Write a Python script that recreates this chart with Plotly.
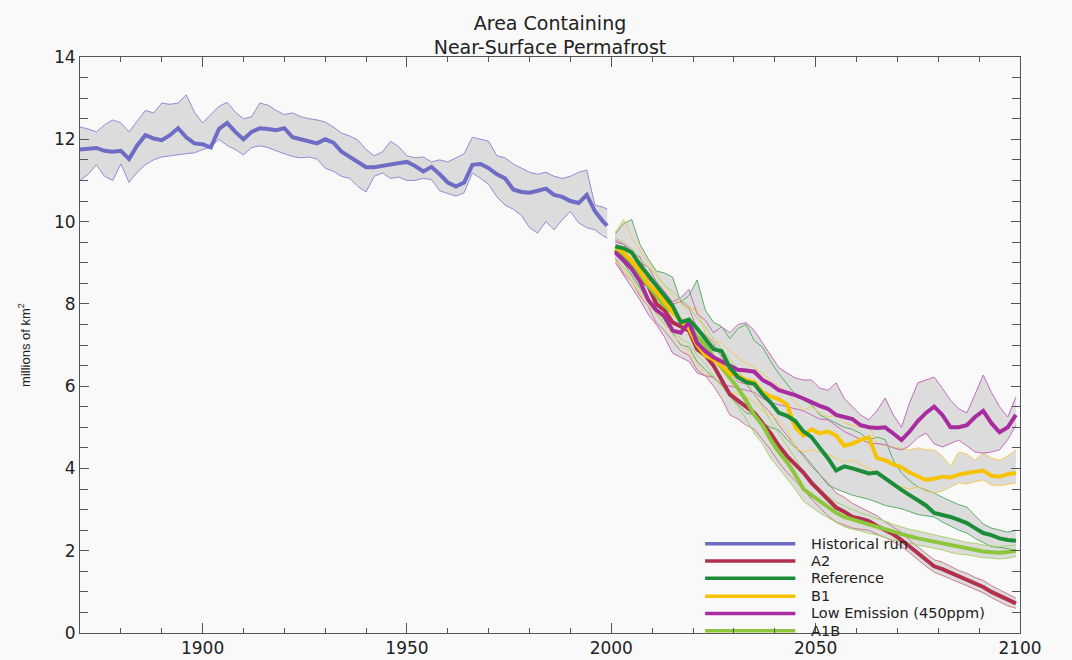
import plotly.graph_objects as go

# historical run, two-year steps
HIST_YEARS = list(range(1870, 2000, 2)) + [1999]
HIST_MEAN = [11.75, 11.76, 11.79, 11.72, 11.70, 11.72, 11.52, 11.85, 12.10, 12.02,
             11.98, 12.10, 12.27, 12.05, 11.90, 11.88, 11.80, 12.25, 12.40, 12.18,
             12.00, 12.18, 12.27, 12.25, 12.22, 12.27, 12.05, 12.00, 11.95, 11.90,
             12.00, 11.92, 11.70, 11.57, 11.45, 11.32, 11.32, 11.36, 11.38, 11.42,
             11.45, 11.35, 11.22, 11.33, 11.15, 10.95, 10.85, 10.95, 11.38, 11.40,
             11.30, 11.15, 11.05, 10.78, 10.72, 10.70, 10.75, 10.80, 10.65, 10.60,
             10.50, 10.45, 10.65, 10.25, 10.00, 9.90]
HIST_HIGH = [12.30, 12.25, 12.18, 12.35, 12.47, 12.40, 12.18, 12.45, 12.70, 12.64,
             12.88, 12.85, 12.88, 13.08, 12.66, 12.40, 12.60, 12.80, 12.90, 12.66,
             12.50, 12.55, 12.88, 12.83, 12.70, 12.60, 12.64, 12.55, 12.50, 12.47,
             12.42, 12.30, 12.15, 12.08, 11.98, 11.75, 11.60, 11.69, 11.95, 11.82,
             11.60, 11.55, 11.57, 11.45, 11.50, 11.45, 11.55, 11.65, 12.05, 12.00,
             11.95, 11.60, 11.55, 11.40, 11.30, 11.20, 11.15, 11.20, 11.10, 11.05,
             11.10, 11.20, 11.25, 10.40, 10.35, 10.30]
HIST_LOW = [11.00, 11.15, 11.38, 11.10, 11.00, 11.40, 10.95, 11.20, 11.38, 11.50,
            11.57, 11.60, 11.62, 11.65, 11.67, 11.75, 11.81, 12.00, 11.85, 11.75,
            11.62, 11.80, 11.84, 11.80, 11.72, 11.65, 11.58, 11.55, 11.57, 11.52,
            11.30, 11.22, 11.10, 11.05, 10.85, 10.72, 11.10, 11.18, 11.05, 11.08,
            11.00, 11.00, 11.05, 11.02, 10.75, 10.68, 10.62, 10.70, 11.18, 11.05,
            10.90, 10.60, 10.40, 10.30, 10.15, 9.85, 9.72, 10.00, 9.80, 10.04,
            10.25, 9.97, 9.85, 9.80, 9.65, 9.60]

# scenario runs, two-year steps
SCEN_YEARS = list(range(2001, 2101, 2))

A2_MEAN = [9.30, 9.10, 8.95, 8.60, 8.45, 8.00, 7.85, 7.55, 7.45, 7.35,
           6.90, 6.75, 6.50, 6.15, 5.80, 5.65, 5.50, 5.35, 5.10, 4.85,
           4.55, 4.30, 4.10, 3.90, 3.65, 3.45, 3.25, 3.05, 2.95, 2.82,
           2.78, 2.72, 2.60, 2.50, 2.40, 2.26, 2.10, 1.94, 1.78, 1.62,
           1.55, 1.46, 1.38, 1.29, 1.20, 1.12, 1.00, 0.90, 0.80, 0.72]
A2_HIGH = [9.55, 9.45, 9.30, 9.00, 8.90, 8.55, 8.30, 8.00, 8.05, 7.90,
           7.40, 7.25, 7.05, 6.70, 6.35, 6.10, 6.05, 5.80, 5.55, 5.35,
           5.05, 4.80, 4.55, 4.30, 4.05, 3.85, 3.65, 3.40, 3.30, 3.15,
           3.05, 2.95, 2.85, 2.70, 2.58, 2.45, 2.25, 2.10, 1.95, 1.78,
           1.72, 1.62, 1.52, 1.45, 1.35, 1.28, 1.15, 1.05, 0.95, 0.85]
A2_LOW = [9.10, 8.75, 8.55, 8.20, 7.95, 7.55, 7.35, 7.10, 6.85, 6.75,
          6.40, 6.25, 6.00, 5.70, 5.30, 5.20, 5.05, 4.95, 4.70, 4.45,
          4.15, 3.90, 3.70, 3.50, 3.25, 3.05, 2.85, 2.70, 2.62, 2.55,
          2.52, 2.50, 2.40, 2.32, 2.22, 2.10, 1.95, 1.78, 1.62, 1.48,
          1.40, 1.32, 1.24, 1.15, 1.06, 0.98, 0.86, 0.76, 0.66, 0.60]

REF_MEAN = [9.40, 9.35, 9.25, 8.95, 8.70, 8.45, 8.20, 7.95, 7.55, 7.62,
            7.40, 7.15, 6.90, 6.85, 6.45, 6.22, 6.10, 6.05, 5.80, 5.60,
            5.35, 5.28, 5.15, 4.90, 4.76, 4.50, 4.25, 3.95, 4.05, 4.00,
            3.95, 3.88, 3.90, 3.75, 3.60, 3.48, 3.35, 3.23, 3.10, 2.92,
            2.88, 2.82, 2.75, 2.67, 2.55, 2.43, 2.38, 2.30, 2.26, 2.24]
REF_HIGH = [9.70, 9.95, 10.05, 9.45, 9.10, 8.80, 8.75, 8.65, 8.05, 8.20,
            8.58, 7.85, 7.55, 7.45, 7.15, 7.40, 7.50, 7.10, 6.95, 6.60,
            6.30, 6.05, 5.80, 5.66, 5.55, 5.30, 5.20, 5.10, 5.00, 4.95,
            4.85, 4.70, 4.76, 4.70, 4.20, 3.89, 3.70, 3.55, 3.48, 3.40,
            3.30, 3.20, 3.12, 3.06, 2.85, 2.65, 2.55, 2.50, 2.45, 2.50]
REF_LOW = [9.20, 9.00, 8.70, 8.40, 8.10, 7.90, 7.60, 7.30, 7.00, 6.95,
           6.60, 6.40, 6.20, 6.05, 5.75, 5.55, 5.35, 5.30, 5.10, 5.00,
           4.93, 4.70, 4.50, 4.35, 4.10, 3.85, 3.60, 3.50, 3.42, 3.35,
           3.30, 3.25, 3.18, 3.10, 3.06, 3.02, 2.95, 2.88, 2.85, 2.82,
           2.70, 2.60, 2.50, 2.43, 2.30, 2.20, 2.10, 2.08, 2.05, 2.00]

B1_MEAN = [9.40, 9.25, 9.05, 8.80, 8.50, 8.30, 8.05, 7.80, 7.60, 7.40,
           7.00, 6.75, 6.65, 6.50, 6.30, 6.25, 6.15, 6.10, 5.85, 5.75,
           5.68, 5.55, 5.00, 4.80, 4.95, 4.85, 4.90, 4.80, 4.55, 4.60,
           4.70, 4.75, 4.25, 4.20, 4.10, 4.03, 3.90, 3.80, 3.72, 3.75,
           3.80, 3.78, 3.85, 3.89, 3.92, 3.95, 3.82, 3.80, 3.86, 3.89]
B1_HIGH = [9.75, 10.05, 9.60, 9.30, 9.00, 8.75, 8.45, 8.20, 8.00, 7.85,
           7.90, 7.30, 7.10, 7.05, 6.85, 6.70, 6.55, 6.45, 6.30, 6.15,
           6.00, 5.85, 5.60, 5.42, 5.50, 5.35, 5.25, 5.30, 5.10, 5.05,
           5.00, 5.05, 4.62, 4.55, 4.52, 4.48, 4.45, 4.50, 4.45, 4.45,
           4.30, 4.05, 4.40, 4.35, 4.20, 4.38, 4.25, 4.20, 4.30, 4.45]
B1_LOW = [9.05, 8.85, 8.55, 8.25, 7.95, 7.80, 7.50, 7.25, 7.05, 6.85,
          6.55, 6.30, 6.20, 6.00, 5.85, 5.80, 5.75, 5.60, 5.40, 5.30,
          5.15, 4.95, 4.50, 4.40, 4.45, 4.40, 4.35, 4.25, 4.15, 4.20,
          4.10, 4.00, 3.89, 3.80, 3.60, 3.55, 3.50, 3.55, 3.45, 3.40,
          3.45, 3.55, 3.65, 3.62, 3.68, 3.72, 3.60, 3.58, 3.62, 3.65]

LOW_MEAN = [9.25, 9.05, 8.85, 8.55, 8.10, 7.85, 7.70, 7.35, 7.30, 7.55,
            7.05, 6.85, 6.70, 6.60, 6.50, 6.40, 6.38, 6.35, 6.15, 6.05,
            5.90, 5.85, 5.78, 5.70, 5.60, 5.52, 5.45, 5.30, 5.25, 5.20,
            5.05, 5.00, 4.98, 5.00, 4.85, 4.69, 4.90, 5.15, 5.35, 5.50,
            5.30, 5.00, 5.00, 5.05, 5.25, 5.40, 5.10, 4.88, 5.00, 5.30]
LOW_HIGH = [9.50, 9.45, 9.20, 9.15, 8.60, 8.40, 8.30, 8.05, 8.15, 8.35,
            7.75, 7.60, 7.30, 7.44, 7.30, 7.50, 7.54, 7.35, 7.05, 6.75,
            6.45, 6.32, 6.20, 6.15, 6.15, 5.95, 5.90, 6.08, 5.70, 5.50,
            5.30, 5.18, 5.40, 5.71, 5.30, 5.00, 5.60, 6.08, 6.15, 6.22,
            5.95, 5.66, 5.45, 5.35, 5.80, 6.27, 5.85, 5.50, 5.25, 5.74]
LOW_LOW = [9.00, 8.70, 8.40, 8.10, 7.75, 7.50, 7.20, 6.80, 6.70, 6.60,
           6.32, 6.25, 6.22, 6.05, 6.00, 5.95, 5.90, 5.85, 5.70, 5.60,
           5.55, 5.50, 5.45, 5.40, 5.30, 5.20, 5.18, 5.05, 4.90, 4.80,
           4.70, 4.62, 4.60, 4.58, 4.50, 4.45, 4.55, 4.75, 4.86, 4.60,
           4.52, 4.60, 4.69, 4.55, 4.40, 4.37, 4.40, 4.45, 4.70, 5.05]

A1B_MEAN = [9.35, 9.20, 9.00, 8.70, 8.45, 8.20, 7.95, 7.80, 7.60, 7.50,
            7.20, 7.00, 6.70, 6.45, 6.20, 5.95, 5.65, 5.30, 5.05, 4.70,
            4.40, 4.15, 3.85, 3.50, 3.35, 3.20, 3.05, 2.92, 2.82, 2.75,
            2.70, 2.64, 2.58, 2.52, 2.45, 2.40, 2.35, 2.30, 2.26, 2.22,
            2.18, 2.12, 2.08, 2.05, 2.02, 1.98, 1.96, 1.95, 1.97, 2.00]
A1B_HIGH = [9.60, 9.50, 9.35, 9.10, 8.90, 8.70, 8.45, 8.30, 8.10, 7.95,
            7.65, 7.45, 7.15, 6.90, 6.65, 6.40, 6.10, 5.80, 5.50, 5.15,
            4.85, 4.55, 4.25, 3.90, 3.70, 3.50, 3.32, 3.18, 3.08, 3.00,
            2.92, 2.86, 2.78, 2.72, 2.64, 2.58, 2.52, 2.48, 2.43, 2.38,
            2.34, 2.30, 2.25, 2.20, 2.18, 2.14, 2.12, 2.10, 2.12, 2.14]
A1B_LOW = [9.10, 8.90, 8.65, 8.35, 8.05, 7.75, 7.50, 7.35, 7.15, 7.05,
           6.75, 6.55, 6.25, 6.00, 5.75, 5.50, 5.20, 4.85, 4.60, 4.25,
           4.00, 3.75, 3.50, 3.20, 3.05, 2.92, 2.80, 2.68, 2.58, 2.52,
           2.48, 2.42, 2.38, 2.32, 2.26, 2.22, 2.18, 2.13, 2.10, 2.06,
           2.02, 1.96, 1.92, 1.90, 1.87, 1.83, 1.82, 1.80, 1.82, 1.86]

LEGEND_NAMES = ["Historical run", "A2", "Reference", "B1", "Low Emission (450ppm)", "A1B"]
LINE_COLORS = ["#6e6cc4", "#b2304e", "#1b8c38", "#f7c300", "#a82ba0", "#8dc63a"]
EDGE_COLORS = ["#8e8ed6", "#cc7a8c", "#5aae66", "#f2cc5a", "#c46cbc", "#aad46e"]

runs = [
    (HIST_YEARS, HIST_MEAN, HIST_LOW, HIST_HIGH),
    (SCEN_YEARS, A2_MEAN, A2_LOW, A2_HIGH),
    (SCEN_YEARS, REF_MEAN, REF_LOW, REF_HIGH),
    (SCEN_YEARS, B1_MEAN, B1_LOW, B1_HIGH),
    (SCEN_YEARS, LOW_MEAN, LOW_LOW, LOW_HIGH),
    (SCEN_YEARS, A1B_MEAN, A1B_LOW, A1B_HIGH),
]

fig = go.Figure()

# grey spread bands first
for yrs, mean, lo, hi in runs:
    fig.add_trace(go.Scatter(x=yrs + yrs[::-1], y=hi + lo[::-1], fill="toself",
                             fillcolor="#dcdcdc", line=dict(width=0),
                             mode="lines", showlegend=False, hoverinfo="skip"))

# thin edges of the bands
for (yrs, mean, lo, hi), col in zip(runs, EDGE_COLORS):
    for edge in (lo, hi):
        fig.add_trace(go.Scatter(x=yrs, y=edge, mode="lines",
                                 line=dict(color=col, width=1), showlegend=False))

# thick ensemble means
order = [0, 1, 5, 3, 4, 2]
for i in order:
    yrs, mean, lo, hi = runs[i]
    fig.add_trace(go.Scatter(x=yrs, y=mean, mode="lines", name=LEGEND_NAMES[i],
                             line=dict(color=LINE_COLORS[i], width=4), showlegend=False))

# legend drawn by hand so the long line samples match
row_y = [0.155, 0.125, 0.095, 0.064, 0.034, 0.004]
for name, col, ry in zip(LEGEND_NAMES, LINE_COLORS, row_y):
    fig.add_shape(type="line", xref="paper", yref="paper", x0=0.665, x1=0.761,
                  y0=ry, y1=ry, line=dict(color=col, width=3.5), layer="below")
    fig.add_annotation(text=name, xref="paper", yref="paper", x=0.775, y=ry,
                       xanchor="left", yanchor="middle", showarrow=False,
                       font=dict(family="DejaVu Sans", size=14.5, color="#222"))

axis_common = dict(showline=True, linecolor="#555", linewidth=1, mirror="ticks",
                   ticks="inside", tickcolor="#555", showgrid=False, zeroline=False,
                   automargin=False,
                   tickfont=dict(family="DejaVu Sans", size=17, color="#222"))

fig.update_xaxes(range=[1870, 2100], tick0=1900, dtick=50, ticklen=10,
                 minor=dict(dtick=10, ticklen=5, ticks="inside", tickcolor="#555"),
                 **axis_common)
fig.update_yaxes(range=[0, 14], dtick=2, ticklen=9,
                 minor=dict(dtick=0.5, ticklen=8, ticks="inside", tickcolor="#555"),
                 title=dict(text="millions of km<sup>2</sup>", standoff=20,
                            font=dict(family="Liberation Sans", size=13, color="#222")),
                 **axis_common)

fig.update_layout(width=1072, height=660, margin=dict(l=80, r=52, t=57, b=27),
                  paper_bgcolor="#f9f9f9", plot_bgcolor="#f9f9f9",
                  font=dict(family="DejaVu Sans"),
                  title=dict(text="Area Containing<br>Near-Surface Permafrost",
                             x=0.5, xanchor="center", xref="paper",
                             y=0.955, yanchor="middle", yref="container",
                             font=dict(family="DejaVu Sans", size=19, color="#222")))

fig.write_html("out.html", config={"displayModeBar": False},
               post_script="document.body.style.margin='0';")
